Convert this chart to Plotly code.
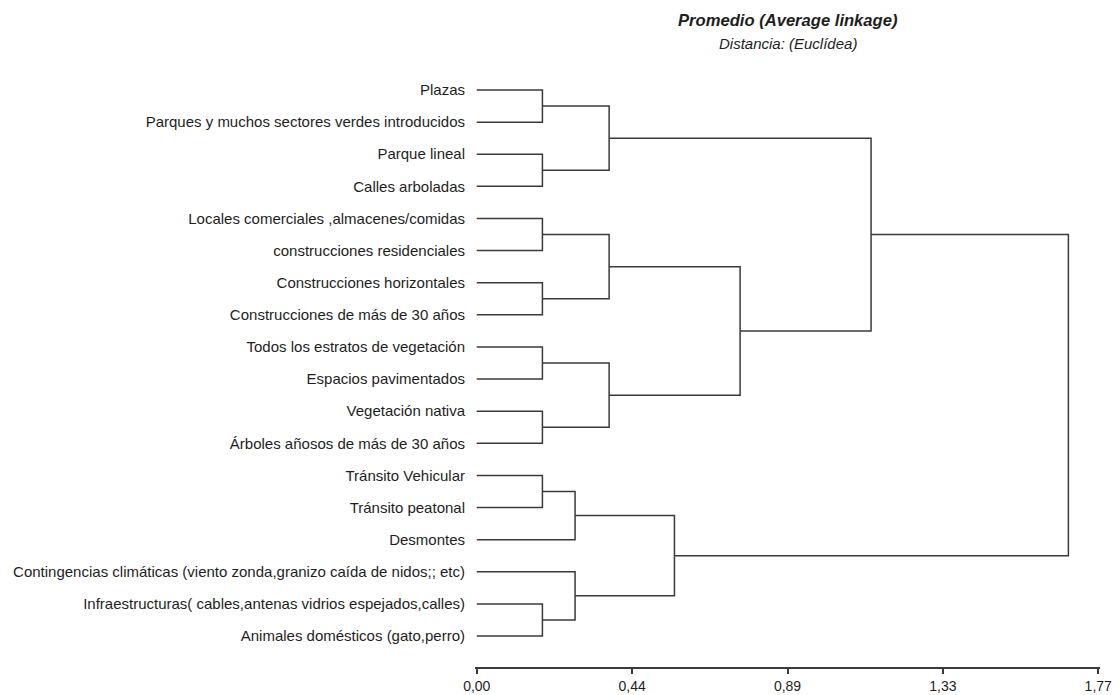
import plotly.graph_objects as go

# ---- data ----
leaf_labels = [
    "Plazas",
    "Parques y muchos sectores verdes introducidos",
    "Parque lineal",
    "Calles arboladas",
    "Locales comerciales ,almacenes/comidas",
    "construcciones residenciales",
    "Construcciones horizontales",
    "Construcciones de más de 30 años",
    "Todos los estratos de vegetación",
    "Espacios pavimentados",
    "Vegetación nativa",
    "Árboles añosos de más de 30 años",
    "Tránsito Vehicular",
    "Tránsito peatonal",
    "Desmontes",
    "Contingencias climáticas (viento zonda,granizo caída de nidos;; etc)",
    "Infraestructuras( cables,antenas vidrios espejados,calles)",
    "Animales domésticos (gato,perro)",
]

# linkage: node ids 0..17 are leaves, 18.. are merged clusters (in order)
merge_left = [0, 2, 18, 4, 6, 21, 8, 10, 24, 23, 20, 12, 29, 16, 15, 30, 28]
merge_right = [1, 3, 19, 5, 7, 22, 9, 11, 25, 26, 27, 13, 14, 17, 31, 32, 33]
merge_height = [0.187, 0.187, 0.377, 0.187, 0.187, 0.377, 0.187, 0.187, 0.377,
                0.750, 1.123, 0.187, 0.280, 0.187, 0.280, 0.563, 1.685]

tick_values = [0.0, 0.4425, 0.885, 1.3275, 1.77]
tick_labels = ["0,00", "0,44", "0,89", "1,33", "1,77"]

title_text = "Promedio (Average linkage)"
subtitle_text = "Distancia: (Euclídea)"

# ---- build dendrogram segments ----
n = len(leaf_labels)
node_y = {i: float(i) for i in range(n)}
node_h = {i: 0.0 for i in range(n)}
xs, ys = [], []
for k, (a, b, h) in enumerate(zip(merge_left, merge_right, merge_height)):
    nid = n + k
    ya, yb = node_y[a], node_y[b]
    xs += [node_h[a], h, h, node_h[b], None]
    ys += [ya, ya, yb, yb, None]
    node_y[nid] = (ya + yb) / 2.0
    node_h[nid] = h

line_color = "#3a3a3a"
text_color = "#1e1e1e"
font_family = "Liberation Sans, Arial, sans-serif"

fig = go.Figure()
fig.add_trace(go.Scatter(
    x=xs, y=ys, mode="lines",
    line=dict(color=line_color, width=1.5),
    hoverinfo="skip", showlegend=False,
))

fig.update_layout(
    width=1120, height=695,
    margin=dict(l=475, r=20, t=70, b=28, autoexpand=False),
    paper_bgcolor="white", plot_bgcolor="white",
    font=dict(family=font_family, size=15, color=text_color),
    xaxis=dict(
        range=[-0.005, 1.775],
        tickvals=tick_values, ticktext=tick_labels,
        showline=True, linecolor=line_color, linewidth=1.5,
        ticks="outside", ticklen=5, tickwidth=1.5, tickcolor=line_color,
        showgrid=False, zeroline=False,
        tickfont=dict(size=14, color=text_color),
        fixedrange=True,
    ),
    yaxis=dict(
        range=[17.965, -0.623],
        tickvals=list(range(n)), ticktext=leaf_labels,
        showline=False, ticks="", showgrid=False, zeroline=False,
        ticklabelstandoff=9,
        tickfont=dict(size=15, color=text_color),
        fixedrange=True,
    ),
    annotations=[
        dict(text="<b><i>" + title_text + "</i></b>", x=0.5, y=1.0826,
             xref="paper", yref="paper", xanchor="center", yanchor="middle",
             showarrow=False, font=dict(size=16.6, color=text_color)),
        dict(text="<i>" + subtitle_text + "</i>", x=0.5, y=1.0452,
             xref="paper", yref="paper", xanchor="center", yanchor="middle",
             showarrow=False, font=dict(size=15, color=text_color)),
    ],
)

fig.write_html(
    "out.html",
    config={"displayModeBar": False},
    post_script="document.body.style.margin='0';document.body.style.overflow='hidden';",
)
